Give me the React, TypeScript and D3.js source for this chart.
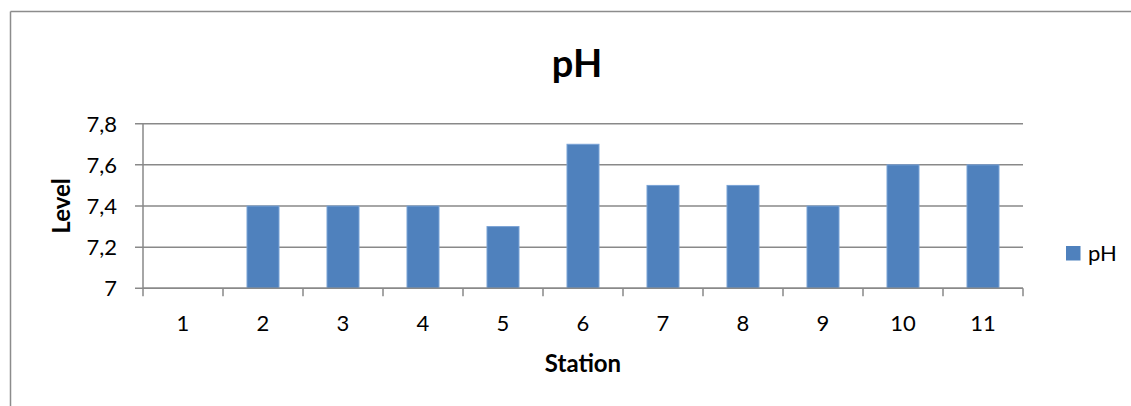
import React from "react";
import * as d3 from "d3";

const stations = ["1", "2", "3", "4", "5", "6", "7", "8", "9", "10", "11"];
const phValues = [7.0, 7.4, 7.4, 7.4, 7.3, 7.7, 7.5, 7.5, 7.4, 7.6, 7.6];
const yTicks = [7, 7.2, 7.4, 7.6, 7.8];
const seriesName = "pH";

const W = 1131;
const H = 406;
const left = 143;
const right = 1023;
const top = 123.7;
const bottom = 288.3;
const font = "Lato, 'Open Sans', sans-serif";
const gridColor = "#898989";
const barColor = "#4F81BD";

export default function App() {
  const x = d3.scaleBand<string>().domain(stations).range([left, right]).paddingInner(0).paddingOuter(0);
  const y = d3.scaleLinear().domain([7, 7.8]).range([bottom, top]);
  const bw = x.bandwidth() * 0.4;
  const fmt = (v: number) => d3.format(".1~f")(v).replace(".", ",");
  const edges = stations.map((s) => x(s) as number).concat([right]);

  return (
    <svg width={W} height={H} style={{ position: "absolute", left: 0, top: 0, background: "#fff" }}>
      <rect x={0} y={0} width={W} height={H} fill="#fff" />
      {/* outer frame */}
      <line x1={10.5} y1={11.5} x2={W + 5} y2={11.5} stroke="#8c8c8c" strokeWidth={1.5} />
      <line x1={10.5} y1={11.5} x2={10.5} y2={H + 5} stroke="#8c8c8c" strokeWidth={1.5} />

      <text x={577} y={77} textAnchor="middle" fontFamily={font} fontWeight="bold" fontSize={38} fill="#000">
        {seriesName}
      </text>

      {/* gridlines */}
      {yTicks.map((t) => (
        <line key={"g" + t} x1={left - 8} x2={right} y1={y(t)} y2={y(t)} stroke={gridColor} strokeWidth={1.5} />
      ))}
      {/* y axis */}
      <line x1={left} x2={left} y1={top} y2={bottom} stroke={gridColor} strokeWidth={1.5} />
      {yTicks.map((t) => (
        <text key={"yl" + t} x={117} y={y(t) + 8} textAnchor="end" fontFamily={font} fontSize={22} fill="#000">
          {fmt(t)}
        </text>
      ))}

      {/* bars */}
      {stations.map((s, i) => {
        const cx = (x(s) as number) + x.bandwidth() / 2;
        const yv = y(phValues[i]);
        return (
          <rect
            key={"b" + s}
            x={cx - bw / 2}
            y={yv}
            width={bw}
            height={Math.max(0, bottom - yv)}
            fill={barColor}
            stroke="#7aa3d6"
            strokeWidth={phValues[i] > 7 ? 1 : 0}
          />
        );
      })}

      {/* x axis */}
      <line x1={left} x2={right} y1={bottom} y2={bottom} stroke={gridColor} strokeWidth={1.5} />
      {edges.map((e, i) => (
        <line key={"xt" + i} x1={e} x2={e} y1={bottom} y2={bottom + 8} stroke={gridColor} strokeWidth={1.5} />
      ))}
      {stations.map((s) => (
        <text
          key={"xl" + s}
          x={(x(s) as number) + x.bandwidth() / 2}
          y={331}
          textAnchor="middle"
          fontFamily={font}
          fontSize={22}
          fill="#000"
        >
          {s}
        </text>
      ))}

      <text x={(left + right) / 2} y={372} textAnchor="middle" fontFamily={font} fontWeight="bold" fontSize={24} fill="#000">
        Station
      </text>
      <text
        transform={`translate(70, ${(top + bottom) / 2}) rotate(-90)`}
        textAnchor="middle"
        fontFamily={font}
        fontWeight="bold"
        fontSize={24}
        fill="#000"
      >
        Level
      </text>

      {/* legend */}
      <rect x={1066} y={246} width={14.5} height={14.5} fill={barColor} />
      <text x={1088} y={261} fontFamily={font} fontSize={22} fill="#000">
        {seriesName}
      </text>
    </svg>
  );
}
